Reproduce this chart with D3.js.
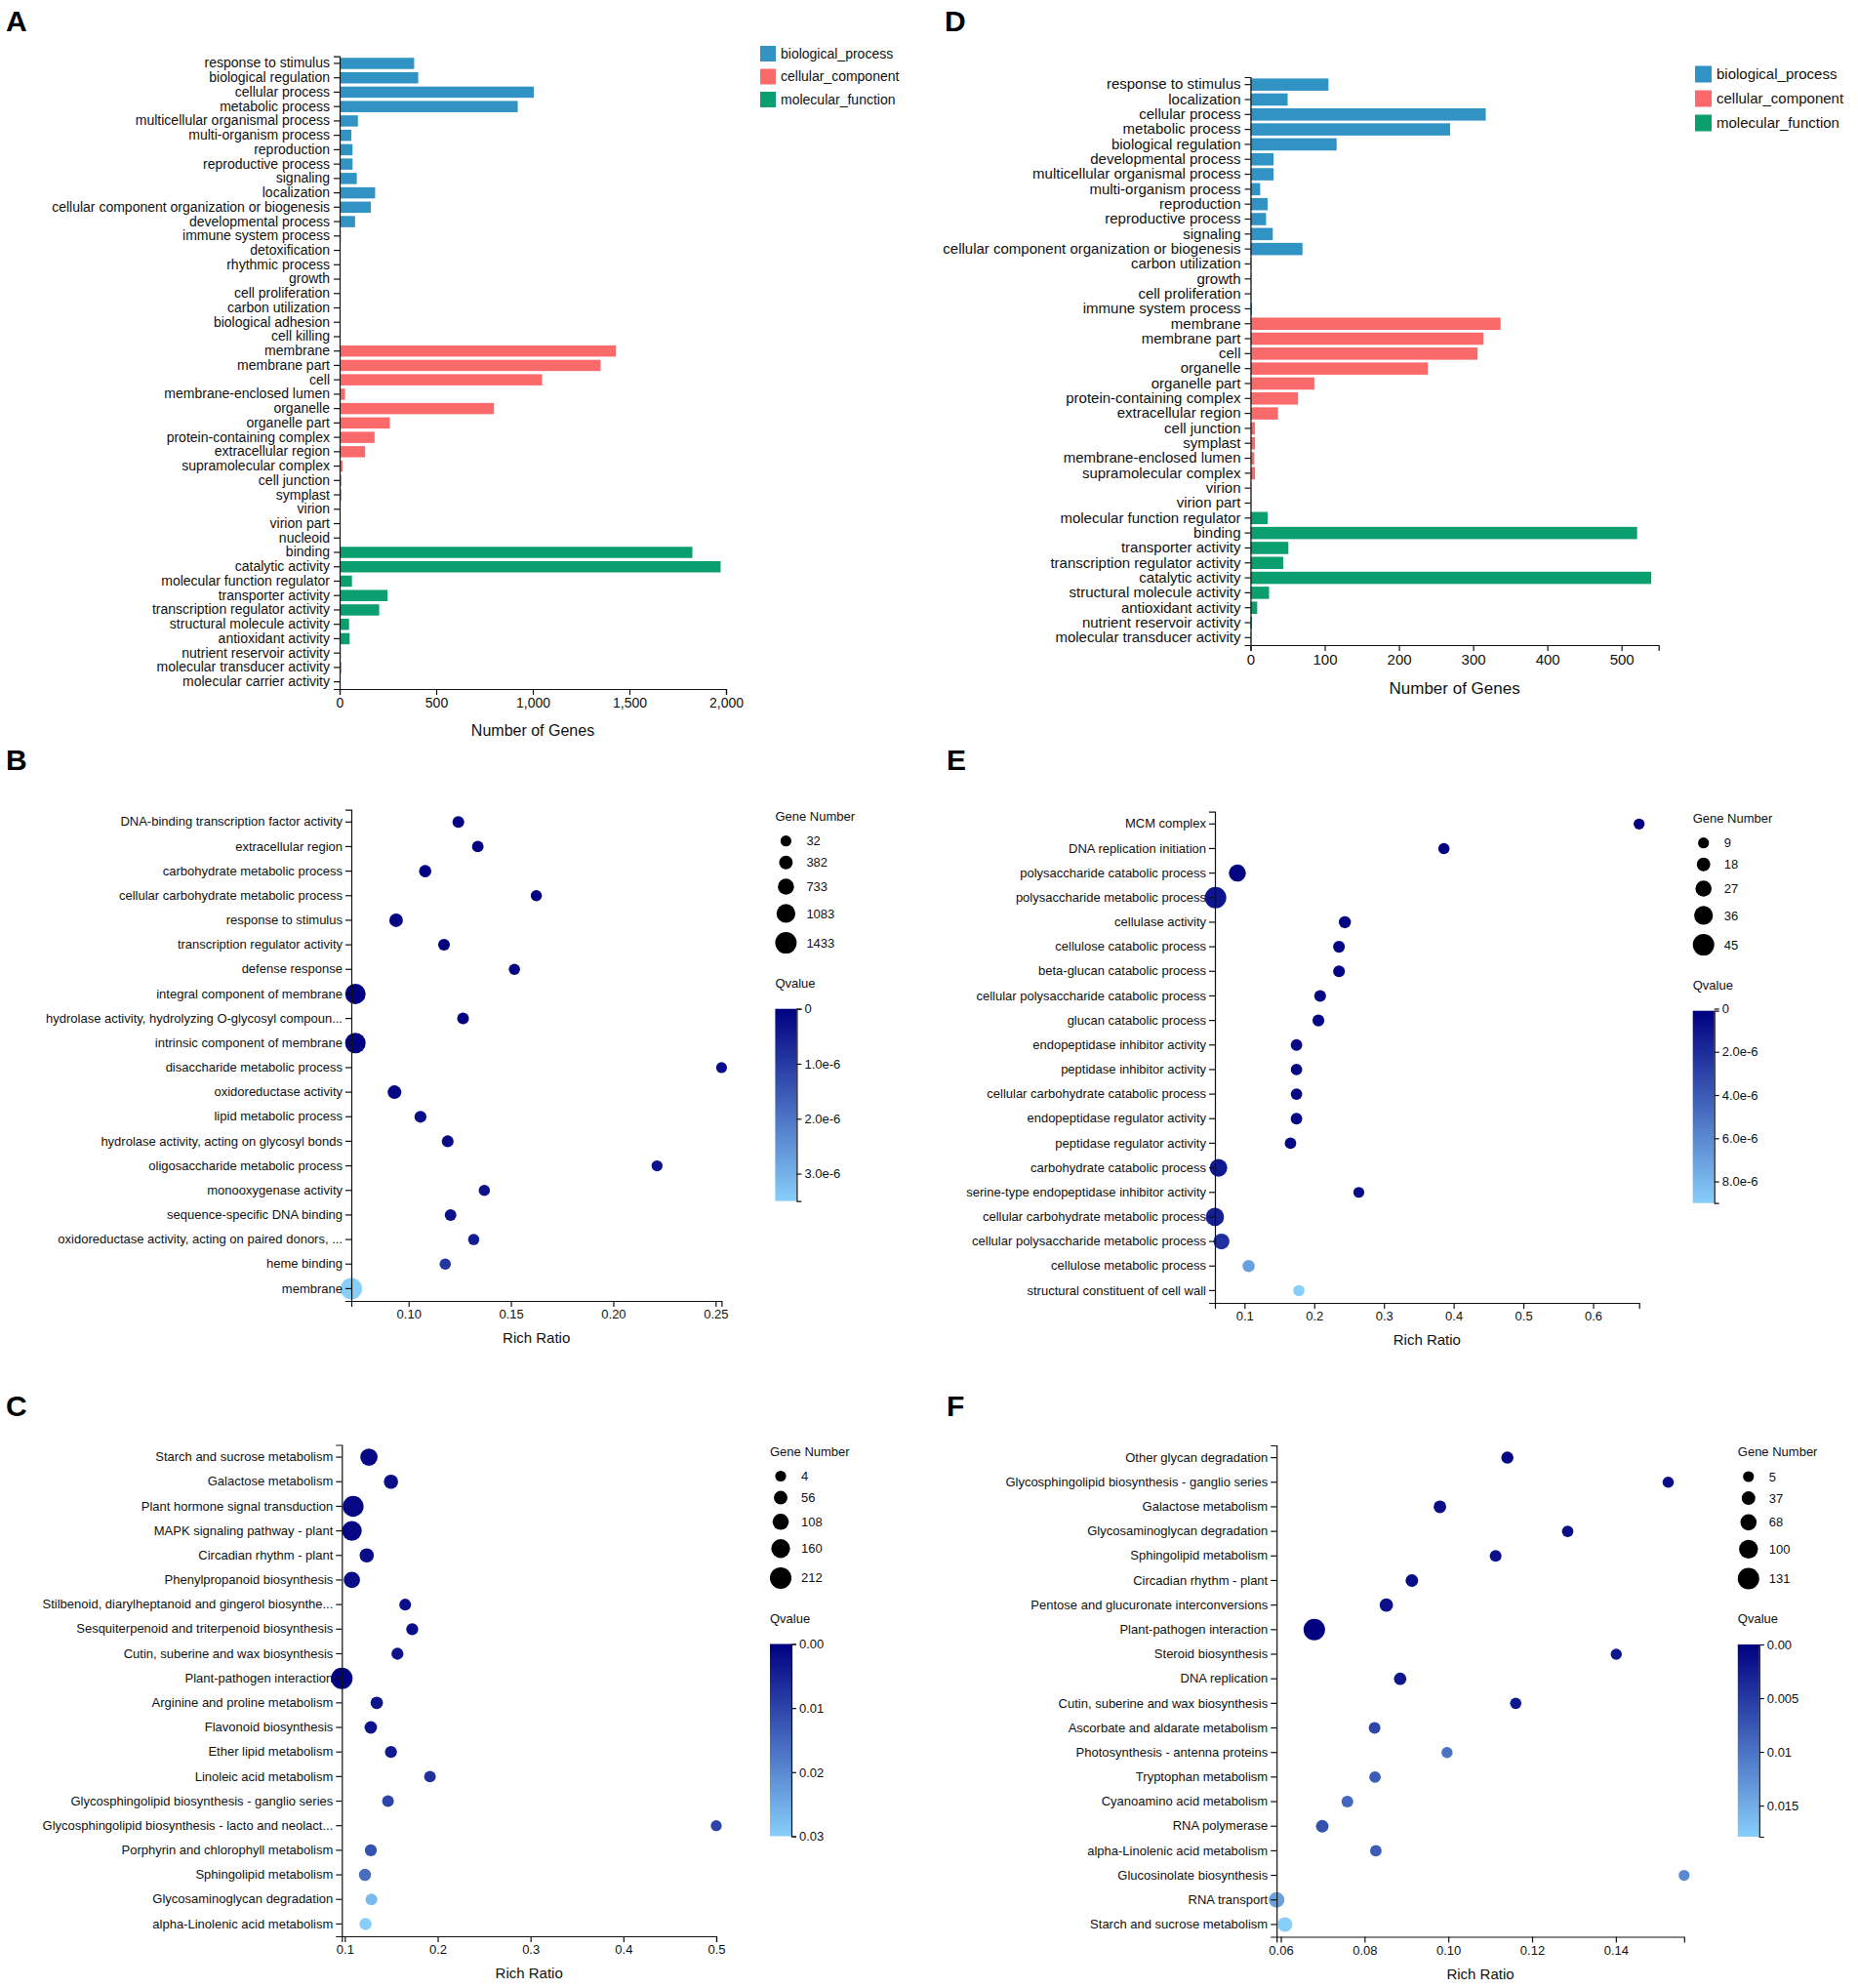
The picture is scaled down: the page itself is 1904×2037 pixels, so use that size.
<!DOCTYPE html>
<html>
<head>
<meta charset="utf-8">
<script src="https://cdn.jsdelivr.net/npm/d3@7"></script>
<style>
  body { margin: 0; background: #fff; }
  svg { display: block; font-family: "Liberation Sans", Arial, Helvetica, sans-serif; }
</style>
</head>
<body>
<svg id="fig" width="1904" height="2037"></svg>
<script>
// ---------- data ----------
const ontologies = ["biological_process", "cellular_component", "molecular_function"];

// panel A
const aBPTerms = ["response to stimulus","biological regulation","cellular process","metabolic process","multicellular organismal process","multi-organism process","reproduction","reproductive process","signaling","localization","cellular component organization or biogenesis","developmental process","immune system process","detoxification","rhythmic process","growth","cell proliferation","carbon utilization","biological adhesion","cell killing"];
const aBPCounts = [386,407,1005,922,95,61,67,67,89,184,162,80,6,3,5,5,2,1,1,1];
const aCCTerms = ["membrane","membrane part","cell","membrane-enclosed lumen","organelle","organelle part","protein-containing complex","extracellular region","supramolecular complex","cell junction","symplast","virion","virion part","nucleoid"];
const aCCCounts = [1430,1351,1048,28,799,260,181,132,15,9,9,5,5,1];
const aMFTerms = ["binding","catalytic activity","molecular function regulator","transporter activity","transcription regulator activity","structural molecule activity","antioxidant activity","nutrient reservoir activity","molecular transducer activity","molecular carrier activity"];
const aMFCounts = [1826,1972,64,248,205,49,52,6,8,1];
const aXTicks = [0, 500, 1000, 1500, 2000];

// panel D
const dBPTerms = ["response to stimulus","localization","cellular process","metabolic process","biological regulation","developmental process","multicellular organismal process","multi-organism process","reproduction","reproductive process","signaling","cellular component organization or biogenesis","carbon utilization","growth","cell proliferation","immune system process"];
const dBPCounts = [105,50,317,269,116,31,31,13,23,21,30,70,1,1,1,2];
const dCCTerms = ["membrane","membrane part","cell","organelle","organelle part","protein-containing complex","extracellular region","cell junction","symplast","membrane-enclosed lumen","supramolecular complex","virion","virion part"];
const dCCCounts = [337,314,306,239,86,64,37,6,6,5,6,1,1];
const dMFTerms = ["molecular function regulator","binding","transporter activity","transcription regulator activity","catalytic activity","structural molecule activity","antioxidant activity","nutrient reservoir activity","molecular transducer activity"];
const dMFCounts = [23,521,51,44,540,25,9,2,1];
const dXTicks = [0, 100, 200, 300, 400, 500];

// panel B
const bTerms = ["DNA-binding transcription factor activity","extracellular region","carbohydrate metabolic process","cellular carbohydrate metabolic process","response to stimulus","transcription regulator activity","defense response","integral component of membrane","hydrolase activity, hydrolyzing O-glycosyl compoun...","intrinsic component of membrane","disaccharide metabolic process","oxidoreductase activity","lipid metabolic process","hydrolase activity, acting on glycosyl bonds","oligosaccharide metabolic process","monooxygenase activity","sequence-specific DNA binding","oxidoreductase activity, acting on paired donors, ...","heme binding","membrane"];
const bRatio = [0.1243,0.1338,0.1081,0.1624,0.0939,0.1173,0.1517,0.0740,0.1266,0.0740,0.2529,0.0931,0.1058,0.1191,0.2214,0.1370,0.1205,0.1318,0.1179,0.0720];
const bGenes = [140,110,215,60,386,140,70,1290,140,1310,32,400,170,150,40,80,130,70,90,1433];
const bQ = [0,0,0,0,0.1e-6,0,0.1e-6,0,0,0,0.2e-6,0.1e-6,0.2e-6,0.2e-6,0.3e-6,0.3e-6,0.3e-6,0.5e-6,0.9e-6,3.5e-6];
const bXTicks = [0.10, 0.15, 0.20, 0.25];
const bGeneTicks = [32, 382, 733, 1083, 1433];
const bQTicks = [0, 1e-6, 2e-6, 3e-6];

// panel E
const eTerms = ["MCM complex","DNA replication initiation","polysaccharide catabolic process","polysaccharide metabolic process","cellulase activity","cellulose catabolic process","beta-glucan catabolic process","cellular polysaccharide catabolic process","glucan catabolic process","endopeptidase inhibitor activity","peptidase inhibitor activity","cellular carbohydrate catabolic process","endopeptidase regulator activity","peptidase regulator activity","carbohydrate catabolic process","serine-type endopeptidase inhibitor activity","cellular carbohydrate metabolic process","cellular polysaccharide metabolic process","cellulose metabolic process","structural constituent of cell wall"];
const eRatio = [0.666,0.386,0.0898,0.0585,0.244,0.2356,0.2356,0.2085,0.206,0.1746,0.1746,0.1746,0.1746,0.166,0.0627,0.264,0.0576,0.067,0.106,0.178];
const eGenes = [9,10,30,45,13,12,12,12,12,11,11,11,11,11,32,9,34,26,13,10];
const eQ = [0.1e-6,0.2e-6,0.3e-6,1.0e-6,0.3e-6,0.3e-6,0.3e-6,0.4e-6,0.4e-6,0.4e-6,0.4e-6,0.4e-6,0.4e-6,0.5e-6,1.2e-6,0.6e-6,1.5e-6,2.2e-6,7.0e-6,9.0e-6];
const eXTicks = [0.1, 0.2, 0.3, 0.4, 0.5, 0.6];
const eGeneTicks = [9, 18, 27, 36, 45];
const eQTicks = [0, 2e-6, 4e-6, 6e-6, 8e-6];

// panel C
const cTerms = ["Starch and sucrose metabolism","Galactose metabolism","Plant hormone signal transduction","MAPK signaling pathway - plant","Circadian rhythm - plant","Phenylpropanoid biosynthesis","Stilbenoid, diarylheptanoid and gingerol biosynthe...","Sesquiterpenoid and triterpenoid biosynthesis","Cutin, suberine and wax biosynthesis","Plant-pathogen interaction","Arginine and proline metabolism","Flavonoid biosynthesis","Ether lipid metabolism","Linoleic acid metabolism","Glycosphingolipid biosynthesis - ganglio series","Glycosphingolipid biosynthesis - lacto and neolact...","Porphyrin and chlorophyll metabolism","Sphingolipid metabolism","Glycosaminoglycan degradation","alpha-Linolenic acid metabolism"];
const cRatio = [0.126,0.1497,0.109,0.1076,0.1236,0.1076,0.165,0.1726,0.1567,0.0968,0.1344,0.128,0.1497,0.1917,0.1465,0.500,0.128,0.1217,0.1287,0.1223];
const cGenes = [130,70,200,180,70,110,20,25,25,212,35,35,25,18,20,4,25,30,20,28];
const cQ = [0.001,0.002,0.001,0.001,0.002,0.002,0.002,0.002,0.003,0,0.003,0.003,0.004,0.007,0.010,0.010,0.012,0.016,0.027,0.030];
const cXTicks = [0.1, 0.2, 0.3, 0.4, 0.5];
const cGeneTicks = [4, 56, 108, 160, 212];
const cQTicks = [0, 0.01, 0.02, 0.03];

// panel F
const fTerms = ["Other glycan degradation","Glycosphingolipid biosynthesis - ganglio series","Galactose metabolism","Glycosaminoglycan degradation","Sphingolipid metabolism","Circadian rhythm - plant","Pentose and glucuronate interconversions","Plant-pathogen interaction","Steroid biosynthesis","DNA replication","Cutin, suberine and wax biosynthesis","Ascorbate and aldarate metabolism","Photosynthesis - antenna proteins","Tryptophan metabolism","Cyanoamino acid metabolism","RNA polymerase","alpha-Linolenic acid metabolism","Glucosinolate biosynthesis","RNA transport","Starch and sucrose metabolism"];
const fRatio = [0.1141,0.1525,0.098,0.1285,0.1113,0.0913,0.0852,0.068,0.1401,0.0885,0.1161,0.0824,0.0997,0.0825,0.0759,0.0699,0.0827,0.1563,0.059,0.061];
const fGenes = [20,10,25,12,15,25,35,131,8,22,10,14,8,12,16,25,12,5,60,50];
const fQ = [0.0005,0.001,0.001,0.001,0.0015,0.001,0.0015,0,0.002,0.002,0.002,0.006,0.010,0.008,0.009,0.007,0.008,0.012,0.014,0.0179];
const fXTicks = [0.06, 0.08, 0.10, 0.12, 0.14];
const fGeneTicks = [5, 37, 68, 100, 131];
const fQTicks = [0, 0.005, 0.01, 0.015];

// ---------- style ----------
const ontColors = ["#3192c4", "#fa6a6b", "#0b9e6f"];
const qDark = "#000080", qLight = "#87cefa";

const svg = d3.select("#fig");
const defs = svg.append("defs");

function styleAxis(sel, fs) {
  sel.selectAll("path, line").attr("stroke", "#111").attr("stroke-width", 1.2);
  sel.selectAll("text").attr("fill", "#111").style("font-size", fs + "px");
}

function panelLabel(t, x, y) {
  svg.append("text").attr("x", x).attr("y", y).text(t)
    .attr("font-size", 30).attr("font-weight", "bold").attr("fill", "#000");
}

// ---------- bar panel ----------
function barPanel(o) {
  const terms = [], vals = [], cols = [];
  o.groups.forEach((grp, i) => {
    grp[0].forEach((t, j) => { terms.push(t); vals.push(grp[1][j]); cols.push(ontColors[i]); });
  });
  const x = d3.scaleLinear().domain([0, o.xMax]).range([o.x0, o.x1]);
  const y = d3.scaleBand().domain(terms).range([o.y0, o.y1])
    .paddingInner(o.pad).paddingOuter(o.pad / 2);

  const g = svg.append("g");
  g.selectAll("rect.bar").data(terms).join("rect")
    .attr("class", "bar")
    .attr("x", x(0))
    .attr("y", d => y(d))
    .attr("width", (d, i) => x(vals[i]) - x(0))
    .attr("height", y.bandwidth())
    .attr("fill", (d, i) => cols[i]);

  g.append("g").attr("transform", `translate(${o.x0},0)`)
    .call(d3.axisLeft(y).tickSize(6).tickSizeOuter(6).tickPadding(4))
    .call(styleAxis, o.fs);
  g.append("g").attr("transform", `translate(0,${o.y1})`)
    .call(d3.axisBottom(x).tickValues(o.xTicks).tickFormat(d3.format(",")).tickSize(6))
    .call(styleAxis, o.fs);

  g.append("text").attr("x", (o.x0 + o.x1) / 2).attr("y", o.y1 + o.titleDy)
    .attr("text-anchor", "middle").attr("font-size", o.titleFs).attr("fill", "#111")
    .text("Number of Genes");

  const leg = g.append("g").attr("transform", `translate(${o.legX},${o.legY})`);
  ontologies.forEach((name, i) => {
    leg.append("rect").attr("x", 0).attr("y", i * o.legStep - o.legBox / 2)
      .attr("width", o.legBox).attr("height", o.legBox).attr("fill", ontColors[i]);
    leg.append("text").attr("x", o.legBox + 5).attr("y", i * o.legStep)
      .attr("dy", "0.35em").attr("font-size", o.legFs).attr("fill", "#111").text(name);
  });
}

// ---------- bubble panel ----------
let gradN = 0;
function bubblePanel(o) {
  const x = d3.scaleLinear().domain(d3.extent(o.ratio)).range([o.x0, o.x1]);
  const y = d3.scaleBand().domain(o.terms).range([o.y0, o.y1]);
  const r = d3.scaleLinear().domain(d3.extent(o.genes)).range([5.6, 11]);
  const qExt = d3.extent(o.q);
  const col = d3.scaleLinear().domain(qExt).range([qDark, qLight]).interpolate(d3.interpolateRgb);

  const g = svg.append("g");
  const cy = d => y(d) + y.bandwidth() / 2;

  g.selectAll("circle.dot").data(o.terms).join("circle")
    .attr("class", "dot")
    .attr("cx", (d, i) => x(o.ratio[i]))
    .attr("cy", cy)
    .attr("r", (d, i) => r(o.genes[i]))
    .attr("fill", (d, i) => col(o.q[i]));

  g.append("g").attr("transform", `translate(${o.x0},0)`)
    .call(d3.axisLeft(y).tickSize(6).tickSizeOuter(6))
    .call(styleAxis, 13);
  g.append("g").attr("transform", `translate(0,${o.y1})`)
    .call(d3.axisBottom(x).tickValues(o.xTicks).tickFormat(d3.format(o.xFmt)).tickSize(6))
    .call(styleAxis, 13);

  g.append("text").attr("x", (o.x0 + o.x1) / 2).attr("y", o.y1 + 43)
    .attr("text-anchor", "middle").attr("font-size", 15).attr("fill", "#111")
    .text("Rich Ratio");

  // gene number legend
  const lx = o.x1 + 55;
  g.append("text").attr("x", lx).attr("y", o.y0 + 11)
    .attr("font-size", 13).attr("fill", "#111").text("Gene Number");
  let ly = o.y0 + 32;
  o.geneTicks.forEach((v, i) => {
    if (i > 0) ly += r(o.geneTicks[i - 1]) + r(v) + 9.5;
    g.append("circle").attr("cx", lx + 11).attr("cy", ly).attr("r", r(v)).attr("fill", "#000");
    g.append("text").attr("x", lx + 32).attr("y", ly).attr("dy", "0.35em")
      .attr("font-size", 13).attr("fill", "#111").text(v);
  });

  // q value colour bar
  g.append("text").attr("x", lx).attr("y", o.y0 + 182)
    .attr("font-size", 13).attr("fill", "#111").text("Qvalue");
  const id = "qgrad" + (gradN++);
  const grad = defs.append("linearGradient").attr("id", id)
    .attr("x1", "0%").attr("x2", "0%").attr("y1", "0%").attr("y2", "100%");
  grad.append("stop").attr("offset", "0%").attr("stop-color", qDark);
  grad.append("stop").attr("offset", "100%").attr("stop-color", qLight);
  const cbTop = o.y0 + 204, cbBot = o.y0 + 401, cbW = 22;
  g.append("rect").attr("x", lx).attr("y", cbTop).attr("width", cbW)
    .attr("height", cbBot - cbTop).attr("fill", `url(#${id})`);
  const qs = d3.scaleLinear().domain(qExt).range([cbTop, cbBot]);
  g.append("g").attr("transform", `translate(${lx + cbW},0)`)
    .call(d3.axisRight(qs).tickValues(o.qTicks).tickFormat(o.qFmt).tickSize(5).tickSizeOuter(5))
    .call(styleAxis, 13);
}

// ---------- draw ----------
panelLabel("A", 6, 32);
panelLabel("D", 968, 32);
panelLabel("B", 6, 789);
panelLabel("E", 970, 789);
panelLabel("C", 6, 1451);
panelLabel("F", 970, 1451);

barPanel({
  groups: [[aBPTerms, aBPCounts], [aCCTerms, aCCCounts], [aMFTerms, aMFCounts]],
  xMax: 2000, xTicks: aXTicks, x0: 348, x1: 744, y0: 57.6, y1: 706, pad: 0.22,
  fs: 14, titleFs: 16, titleDy: 48,
  legX: 779, legY: 55, legStep: 23.5, legBox: 16, legFs: 14
});

barPanel({
  groups: [[dBPTerms, dBPCounts], [dCCTerms, dCCCounts], [dMFTerms, dMFCounts]],
  xMax: 550, xTicks: dXTicks, x0: 1281.5, x1: 1699.7, y0: 79, y1: 661, pad: 0.18,
  fs: 15, titleFs: 17, titleDy: 50,
  legX: 1737, legY: 76, legStep: 25, legBox: 17, legFs: 15
});

const fmtSci = d => d === 0 ? "0" : d3.format(".1e")(d);
bubblePanel({
  terms: bTerms, ratio: bRatio, genes: bGenes, q: bQ,
  xTicks: bXTicks, xFmt: ".2f", geneTicks: bGeneTicks, qTicks: bQTicks, qFmt: fmtSci,
  x0: 360, x1: 739.4, y0: 829.7, y1: 1333
});
bubblePanel({
  terms: eTerms, ratio: eRatio, genes: eGenes, q: eQ,
  xTicks: eXTicks, xFmt: ".1f", geneTicks: eGeneTicks, qTicks: eQTicks, qFmt: fmtSci,
  x0: 1245, x1: 1679.7, y0: 831.7, y1: 1335
});
bubblePanel({
  terms: cTerms, ratio: cRatio, genes: cGenes, q: cQ,
  xTicks: cXTicks, xFmt: ".1f", geneTicks: cGeneTicks, qTicks: cQTicks, qFmt: d3.format(".2f"),
  x0: 350.3, x1: 734, y0: 1480.5, y1: 1984
});
bubblePanel({
  terms: fTerms, ratio: fRatio, genes: fGenes, q: fQ,
  xTicks: fXTicks, xFmt: ".2f", geneTicks: fGeneTicks, qTicks: fQTicks,
  qFmt: d => d === 0 ? "0.00" : String(d),
  x0: 1308.2, x1: 1725.8, y0: 1481, y1: 1984.5
});
</script>
</body>
</html>
